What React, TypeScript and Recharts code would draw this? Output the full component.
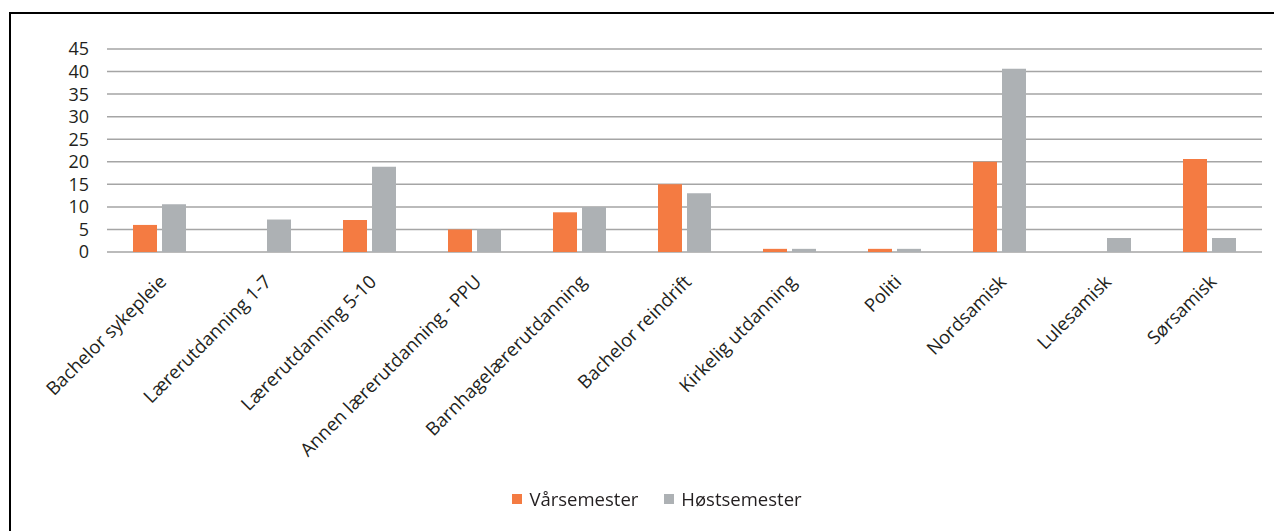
import { BarChart, Bar, XAxis, YAxis, CartesianGrid, Legend } from 'recharts';

const programs = [
  'Bachelor sykepleie',
  'Lærerutdanning 1-7',
  'Lærerutdanning 5-10',
  'Annen lærerutdanning - PPU',
  'Barnhagelærerutdanning',
  'Bachelor reindrift',
  'Kirkelig utdanning',
  'Politi',
  'Nordsamisk',
  'Lulesamisk',
  'Sørsamisk',
];
const springValues = [6, 0, 7.1, 5, 8.8, 15, 0.7, 0.7, 20, 0, 20.6];
const autumnValues = [10.6, 7.2, 18.9, 5, 10, 13, 0.7, 0.7, 40.6, 3.1, 3.1];
const yTicks = [0, 5, 10, 15, 20, 25, 30, 35, 40, 45];

const ORANGE = '#f47b42';
const GREY = '#adb1b4';
const FONT = '"Open Sans", sans-serif';
const TEXT = '#231f20';

const data = programs.map((name, i) => ({
  name,
  Vårsemester: springValues[i],
  Høstsemester: autumnValues[i],
}));

function AngledTick(props: any) {
  const { x, y, payload } = props;
  return (
    <g transform={`translate(${x + 8},${y + 23})`}>
      <text
        textAnchor="end"
        transform="rotate(-45)"
        fontFamily={FONT}
        fontSize={18.5}
        fill={TEXT}
      >
        {payload.value}
      </text>
    </g>
  );
}

function LegendBox() {
  const items = [
    { label: 'Vårsemester', color: ORANGE },
    { label: 'Høstsemester', color: GREY },
  ];
  return (
    <div style={{ display: 'flex', justifyContent: 'center', fontFamily: FONT, fontSize: 18.5, color: TEXT }}>
      {items.map((it) => (
        <div key={it.label} style={{ display: 'flex', alignItems: 'center', margin: '0 13px' }}>
          <span style={{ width: 10, height: 10, background: it.color, marginRight: 7, display: 'inline-block' }} />
          <span>{it.label}</span>
        </div>
      ))}
    </div>
  );
}

export default function App() {
  return (
    <div style={{ position: 'fixed', left: 0, top: 0, width: 1274, height: 531, background: '#fff' }}>
      <div
        style={{
          position: 'absolute',
          left: 9,
          top: 12,
          width: 1265,
          height: 519,
          borderTop: '2px solid #000',
          borderLeft: '2px solid #000',
          boxSizing: 'border-box',
        }}
      />
      <div style={{ position: 'absolute', left: 0, top: 0 }}>
        <BarChart
          width={1274}
          height={531}
          data={data}
          margin={{ top: 49, right: 12, left: 9, bottom: 0 }}
          barSize={24}
          barGap={5}
        >
          <CartesianGrid vertical={false} stroke="#a5a5a5" strokeWidth={1.5} />
          <XAxis
            dataKey="name"
            height={279}
            interval={0}
            axisLine={false}
            tickLine={false}
            tick={<AngledTick />}
          />
          <YAxis
            width={98}
            domain={[0, 45]}
            ticks={yTicks}
            interval={0}
            axisLine={false}
            tickLine={false}
            tickSize={0}
            tickMargin={18}
            tick={{ fontFamily: FONT, fontSize: 18, fill: TEXT }}
          />
          <Legend
            verticalAlign="middle"
            layout="horizontal"
            wrapperStyle={{ top: 486, left: 20, width: 1274 }}
            content={<LegendBox />}
          />
          <Bar dataKey="Vårsemester" fill={ORANGE} isAnimationActive={false} />
          <Bar dataKey="Høstsemester" fill={GREY} isAnimationActive={false} />
        </BarChart>
      </div>
    </div>
  );
}
